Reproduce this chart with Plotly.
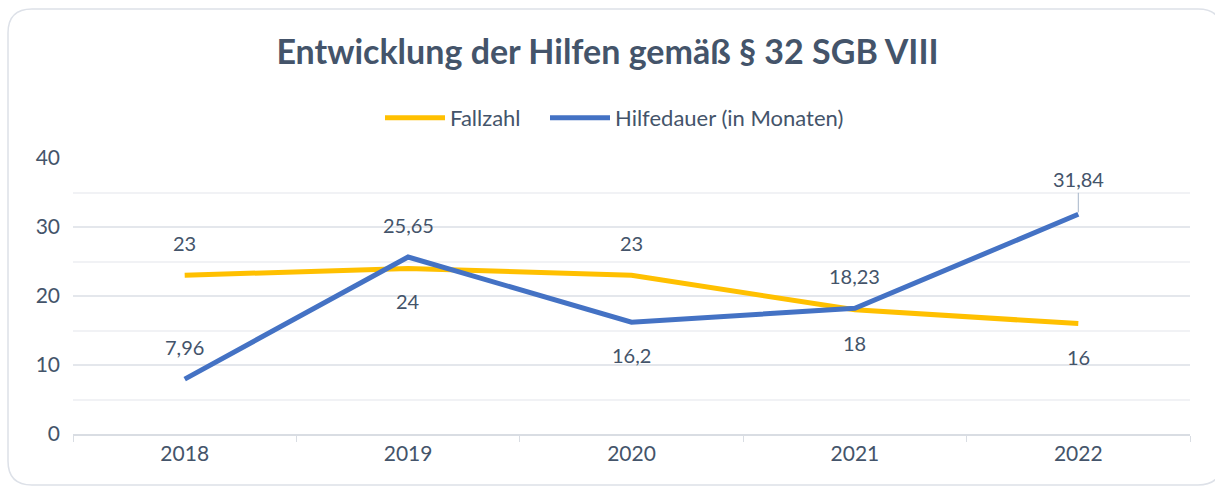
import plotly.graph_objects as go

years = ["2018", "2019", "2020", "2021", "2022"]
fallzahl = [23, 24, 23, 18, 16]
hilfedauer = [7.96, 25.65, 16.2, 18.23, 31.84]
fall_pos = ["above", "below", "above", "below", "below"]
dauer_pos = ["above", "above", "below", "above", "above"]
y_ticks = [0, 10, 20, 30, 40]

W, H = 1215, 486
L, R, T, B = 73, 1190, 158, 434
TXT = "#44546A"
FONT = "Lato"
FS = 21

def px(x):
    return (x - L) / (R - L)

def py(y):
    return (B - y) / (B - T)

def de(v):
    s = ("%.2f" % v).rstrip("0").rstrip(".")
    return s.replace(".", ",")

fig = go.Figure()
fig.add_trace(go.Scatter(x=years, y=fallzahl, name="Fallzahl", mode="lines",
                         line=dict(color="#FFC000", width=5), hoverinfo="skip",
                         legend="legend"))
fig.add_trace(go.Scatter(x=years, y=hilfedauer, name="Hilfedauer (in Monaten)", mode="lines",
                         line=dict(color="#4472C4", width=5), hoverinfo="skip",
                         legend="legend2"))

ann = []
for series, pos in ((fallzahl, fall_pos), (hilfedauer, dauer_pos)):
    for i, v in enumerate(series):
        off = -32 if pos[i] == "above" else 33
        lead = (series is hilfedauer and i == len(years) - 1)
        ann.append(dict(x=i, y=v, xref="x", yref="y", text=de(v),
                        showarrow=True, ax=0, ay=-35 if lead else off,
                        arrowcolor="#A6B4C8" if lead else "rgba(0,0,0,0)",
                        arrowwidth=1, arrowhead=0, standoff=2,
                        font=dict(size=20, color=TXT, family=FONT)))
fig.update_layout(annotations=ann)

# rounded chart border
x0, y0, x1, y1, r = 8, 9, 1222, 485, 24
path = (f"M {px(x0+r)},{py(y0)} L {px(x1-r)},{py(y0)} Q {px(x1)},{py(y0)} {px(x1)},{py(y0+r)} "
        f"L {px(x1)},{py(y1-r)} Q {px(x1)},{py(y1)} {px(x1-r)},{py(y1)} "
        f"L {px(x0+r)},{py(y1)} Q {px(x0)},{py(y1)} {px(x0)},{py(y1-r)} "
        f"L {px(x0)},{py(y0+r)} Q {px(x0)},{py(y0)} {px(x0+r)},{py(y0)} Z")
fig.add_shape(type="path", path=path, xref="paper", yref="paper",
              line=dict(color="#DDE1E8", width=1.5), layer="below")

leg_common = dict(orientation="h", xanchor="left", y=py(118), yanchor="middle",
                  font=dict(size=22, color=TXT, family=FONT), itemwidth=60,
                  bgcolor="rgba(0,0,0,0)")

fig.update_layout(
    width=W, height=H,
    margin=dict(l=L, r=W - R, t=T, b=H - B, autoexpand=False),
    paper_bgcolor="white", plot_bgcolor="white",
    font=dict(family=FONT, color=TXT, size=FS),
    title=dict(text="<b>Entwicklung der Hilfen gemäß § 32 SGB VIII</b>",
               x=0.5, xanchor="center", y=1 - 52 / H, yanchor="middle",
               font=dict(size=34, color=TXT, family=FONT)),
    legend=dict(x=px(380), **leg_common),
    legend2=dict(x=px(545), **leg_common),
    showlegend=True,
    xaxis=dict(type="category", range=[-0.5, 4.5], tickson="boundaries", ticks="outside", ticklen=6,
               tickcolor="#D9DDE3", showline=True, linecolor="#D9DDE3", linewidth=1.5,
               showgrid=False, tickfont=dict(size=FS, color=TXT), tickangle=0,
               automargin=False, fixedrange=True),
    yaxis=dict(range=[0, 40], tickvals=y_ticks, showgrid=True, gridcolor="#E4E7EC",
               gridwidth=1.5, zeroline=False, showline=False, ticks="",
               minor=dict(dtick=5, showgrid=True, gridcolor="#F1F2F5", gridwidth=1.5),
               tickfont=dict(size=FS, color=TXT), ticklabelstandoff=12,
               automargin=False, fixedrange=True),
)

fig.write_html("out.html", config={"displayModeBar": False},
               post_script="document.body.style.margin='0';document.body.style.overflow='hidden';")
